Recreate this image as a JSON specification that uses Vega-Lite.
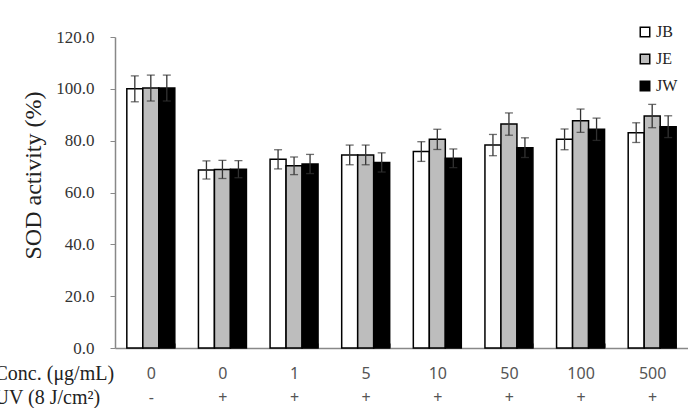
{
  "$schema": "https://vega.github.io/schema/vega-lite/v6.json",
  "width": 573,
  "height": 311,
  "autosize": {"type": "none"},
  "padding": {"left": 115, "top": 37, "right": 0, "bottom": 60},
  "background": "white",
  "config": {"view": {"stroke": null}, "axis": {"grid": false}},
  "data": {
    "values": [
      {"group": "0|-", "sample": "JB", "mean": 100.0, "sd": 5.0},
      {"group": "0|-", "sample": "JE", "mean": 100.3, "sd": 5.0},
      {"group": "0|-", "sample": "JW", "mean": 100.3, "sd": 5.0},
      {"group": "0|+", "sample": "JB", "mean": 68.7, "sd": 3.5},
      {"group": "0|+", "sample": "JE", "mean": 68.9, "sd": 3.5},
      {"group": "0|+", "sample": "JW", "mean": 69.0, "sd": 3.3},
      {"group": "1|+", "sample": "JB", "mean": 72.8, "sd": 3.7},
      {"group": "1|+", "sample": "JE", "mean": 70.3, "sd": 3.4},
      {"group": "1|+", "sample": "JW", "mean": 71.0, "sd": 3.7},
      {"group": "5|+", "sample": "JB", "mean": 74.5, "sd": 3.8},
      {"group": "5|+", "sample": "JE", "mean": 74.5, "sd": 3.8},
      {"group": "5|+", "sample": "JW", "mean": 71.6, "sd": 3.7},
      {"group": "10|+", "sample": "JB", "mean": 75.8, "sd": 3.8},
      {"group": "10|+", "sample": "JE", "mean": 80.5, "sd": 3.9},
      {"group": "10|+", "sample": "JW", "mean": 73.2, "sd": 3.6},
      {"group": "50|+", "sample": "JB", "mean": 78.3, "sd": 4.1},
      {"group": "50|+", "sample": "JE", "mean": 86.4, "sd": 4.3},
      {"group": "50|+", "sample": "JW", "mean": 77.3, "sd": 3.8},
      {"group": "100|+", "sample": "JB", "mean": 80.5, "sd": 4.0},
      {"group": "100|+", "sample": "JE", "mean": 87.7, "sd": 4.5},
      {"group": "100|+", "sample": "JW", "mean": 84.4, "sd": 4.3},
      {"group": "500|+", "sample": "JB", "mean": 83.1, "sd": 3.8},
      {"group": "500|+", "sample": "JE", "mean": 89.5, "sd": 4.5},
      {"group": "500|+", "sample": "JW", "mean": 85.4, "sd": 4.2}
    ]
  },
  "encoding": {
    "x": {
      "field": "group",
      "type": "nominal",
      "sort": null,
      "scale": {"paddingInner": 0.33, "paddingOuter": 0.165},
      "axis": {
        "title": ["Conc. (μg/mL)", "UV (8 J/cm²)"],
        "titleFont": "Liberation Serif",
        "titleFontSize": 20,
        "titleFontWeight": "normal",
        "titleColor": "#222",
        "titleAlign": "left",
        "titleAnchor": "start",
        "titleBaseline": "top",
        "titleX": -121,
        "titleY": 15,
        "titleLineHeight": 24,
        "labelExpr": "datum.value ? split(datum.value, '|') : ''",
        "labelAngle": 0,
        "labelFont": "Noto Sans",
        "labelFontSize": 16,
        "labelColor": "#555",
        "labelLineHeight": 24,
        "labelPadding": 22,
        "labelBaseline": "top",
        "tickBand": "extent",
        "tickSize": -5,
        "tickColor": "#888",
        "domainColor": "#888",
        "domainWidth": 1.5
      }
    },
    "xOffset": {"field": "sample", "type": "nominal", "sort": ["JB", "JE", "JW"]}
  },
  "layer": [
    {
      "mark": {"type": "bar", "stroke": "black", "strokeWidth": 1.5},
      "encoding": {
        "y": {
          "field": "mean",
          "type": "quantitative",
          "scale": {"domain": [0, 120], "nice": false},
          "axis": {
            "title": "SOD activity (%)",
            "titleFont": "Liberation Serif",
            "titleFontSize": 24,
            "titleFontWeight": "normal",
            "titleColor": "#222",
            "titlePadding": 10,
            "titleY": 138,
            "values": [0, 20, 40, 60, 80, 100, 120],
            "format": ".1f",
            "labelFont": "Liberation Serif",
            "labelFontSize": 17,
            "labelColor": "#333",
            "labelPadding": 16,
            "tickSize": 5,
            "tickColor": "#888",
            "domainColor": "#888",
            "domainWidth": 1.5
          }
        },
        "fill": {
          "field": "sample",
          "type": "nominal",
          "scale": {"domain": ["JB", "JE", "JW"], "range": ["#ffffff", "#bdbdbd", "#000000"]},
          "legend": {
            "title": null,
            "orient": "none",
            "legendX": 522,
            "legendY": -13,
            "padding": 0,
            "symbolType": "square",
            "symbolSize": 90,
            "symbolStrokeColor": "black",
            "symbolStrokeWidth": 1.5,
            "labelFont": "Liberation Serif",
            "labelFontSize": 16,
            "labelColor": "#222",
            "labelOffset": 3,
            "rowPadding": 11
          }
        }
      }
    },
    {
      "mark": {"type": "errorbar", "ticks": {"size": 8}, "color": "#333", "thickness": 1.3},
      "encoding": {
        "y": {"field": "mean", "type": "quantitative", "title": "SOD activity (%)"},
        "yError": {"field": "sd"}
      }
    }
  ]
}
